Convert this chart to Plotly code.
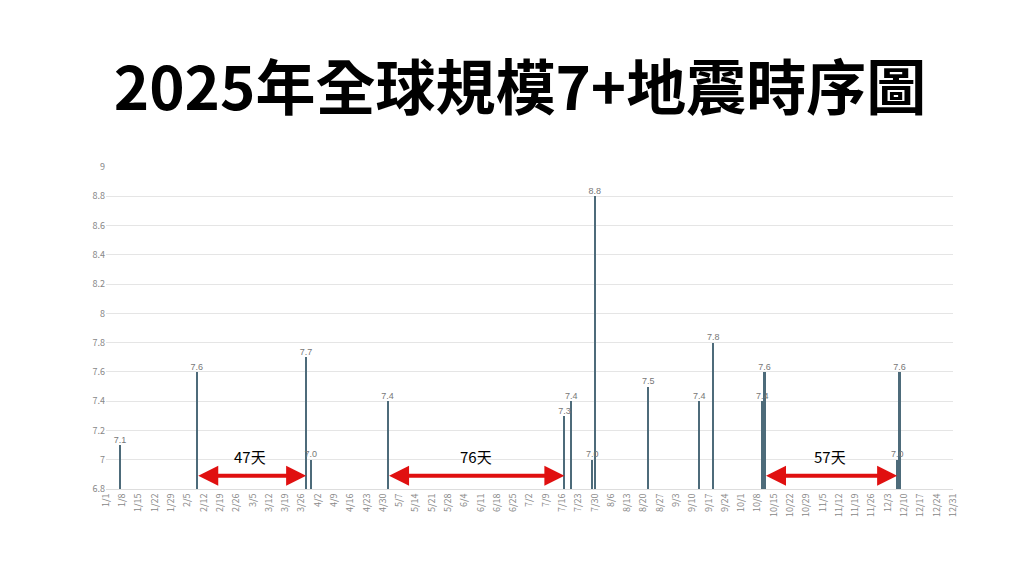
import plotly.graph_objects as go
import datetime as dt

dates = ["2025-01-07","2025-02-09","2025-03-28","2025-03-30","2025-05-02","2025-07-17","2025-07-20",
         "2025-07-29","2025-07-30","2025-08-22","2025-09-13","2025-09-19","2025-10-10","2025-10-11",
         "2025-12-07","2025-12-08"]
mags = [7.1,7.6,7.7,7.0,7.4,7.3,7.4,7.0,8.8,7.5,7.4,7.8,7.4,7.6,7.0,7.6]
gaps = [("2025-02-09","2025-03-28","47天"),("2025-05-02","2025-07-17","76天"),("2025-10-11","2025-12-07","57天")]

fig = go.Figure()
fig.add_trace(go.Bar(x=dates, y=[m-6.8 for m in mags], base=6.8, marker_color="#4d6b7a",
                     marker_line_width=0, width=86400000*0.9, hoverinfo="skip"))
fig.add_trace(go.Scatter(x=dates, y=mags, mode="text", text=[f"{m:.1f}" for m in mags],
                         textposition="top center", textfont=dict(size=9, color="#777",
                         family="Liberation Sans"), cliponaxis=False, hoverinfo="skip"))

for a, b, lab in gaps:
    fig.add_annotation(x=b, y=6.89, ax=a, ay=6.89, xref="x", yref="y", axref="x", ayref="y",
                       text="", showarrow=True, arrowhead=2, startarrowhead=2, arrowside="end+start",
                       arrowwidth=4, arrowsize=1, startarrowsize=1, arrowcolor="#e01010")
    da = dt.date.fromisoformat(a); db = dt.date.fromisoformat(b)
    mid = (da + (db-da)/2).isoformat()
    fig.add_annotation(x=mid, y=7.02, text=lab, showarrow=False, font=dict(size=15, color="black"))

fig.update_layout(
    width=1024, height=582, plot_bgcolor="white", paper_bgcolor="white",
    margin=dict(l=98, r=79, t=159, b=101), showlegend=False,
    font=dict(family="Noto Sans CJK TC"),
    title=dict(text="<b>2025年全球規模7+地震時序圖</b>", x=0.5, y=0.86, yanchor="middle",
               font=dict(size=60, color="black", family="Noto Sans CJK TC")),
    bargap=0,
)
fig.update_xaxes(type="date", range=["2025-01-01","2025-12-31"], tickmode="linear",
                 tick0="2025-01-01", dtick=7*86400000, tickformat="%-m/%-d", tickangle=-90,
                 tickfont=dict(size=9, color="#888"), showgrid=False, showline=True, linecolor="#ddd")
fig.update_yaxes(range=[6.8, 9.0], tickvals=[6.8,7,7.2,7.4,7.6,7.8,8,8.2,8.4,8.6,8.8,9],
                 ticktext=["6.8","7","7.2","7.4","7.6","7.8","8","8.2","8.4","8.6","8.8","9"],
                 tickfont=dict(size=9, color="#888"), gridcolor="#e5e5e5", zeroline=False)
fig.write_html("out.html")
